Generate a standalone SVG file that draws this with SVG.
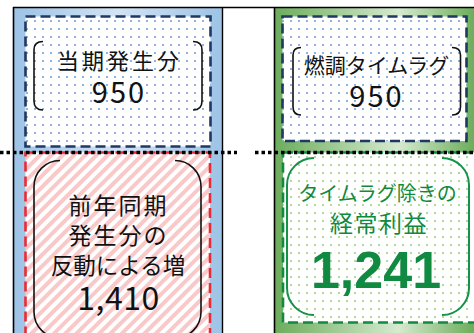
<svg xmlns="http://www.w3.org/2000/svg" width="474" height="333" viewBox="0 0 474 333">
<defs>
<linearGradient id="gBlue" gradientUnits="userSpaceOnUse" x1="14" y1="0" x2="222" y2="0">
<stop offset="0" stop-color="#9DC3E6"/><stop offset="0.5" stop-color="#D2E3F4"/><stop offset="1" stop-color="#9DC3E6"/>
</linearGradient>
<linearGradient id="gGreen" gradientUnits="userSpaceOnUse" x1="275" y1="0" x2="474" y2="0">
<stop offset="0" stop-color="#6CAD5C"/><stop offset="0.62" stop-color="#D6EAD0"/><stop offset="1" stop-color="#6CAD5C"/>
</linearGradient>
<pattern id="dotsBlue" patternUnits="userSpaceOnUse" x="0" y="0" width="8" height="8">
<rect width="8" height="8" fill="#fff"/><rect x="2" y="4" width="2" height="2" fill="#8EB4E3"/>
</pattern>
<pattern id="dotsGreen" patternUnits="userSpaceOnUse" x="0" y="0" width="8" height="8">
<rect width="8" height="8" fill="#fff"/><rect x="2" y="4" width="2" height="2" fill="#B4DA98"/>
</pattern>
<pattern id="hatch" patternUnits="userSpaceOnUse" width="8" height="8" patternTransform="rotate(45)">
<rect width="8" height="8" fill="#fff"/><rect width="4" height="8" fill="#F9C9C9"/>
</pattern>
<style>
.t{font-family:"Noto Sans CJK JP","Noto Sans",sans-serif;text-anchor:middle;fill:#111}
.g{fill:#108A40}
.br{fill:none;stroke:#111;stroke-width:1.6}
.brg{fill:none;stroke:#16914A;stroke-width:2}
.dash{stroke-width:2.6;stroke-dasharray:10 5}
</style>
</defs>
<rect width="474" height="333" fill="#fff"/>
<g id="col-left">
<rect x="14" y="8" width="208" height="330" fill="url(#gBlue)"/>
</g>
<g id="col-right">
<rect x="275" y="8" width="210" height="330" fill="url(#gGreen)"/>
</g>
<g id="node-toujiki">
<rect class="dash" x="25.5" y="16.5" width="185" height="130" fill="url(#dotsBlue)" stroke="#1F3864"/>
<path class="br" d="M43,41.5 Q34,41.5 34,50 L34,101 Q34,110 43,110"/>
<path class="br" d="M193,41.5 Q202,41.5 202,50 L202,101 Q202,110 193,110"/>
<text class="t" x="119.5" y="69" font-size="22" letter-spacing="3">当期発生分</text>
<text class="t" x="119" y="103" font-size="29" letter-spacing="2">950</text>
</g>
<g id="node-hando">
<rect class="dash" x="25.5" y="152.5" width="184.5" height="200" fill="url(#hatch)" stroke="#EA2A35"/>
<path class="br" d="M60,160.5 A26,26 0 0 0 34,186.5 L34,312 A26,26 0 0 0 60,338"/>
<path class="br" d="M175,160.5 A26,26 0 0 1 201,186.5 L201,312 A26,26 0 0 1 175,338"/>
<text class="t" x="118.5" y="214" font-size="23" letter-spacing="2">前年同期</text>
<text class="t" x="118.5" y="244" font-size="23" letter-spacing="2">発生分の</text>
<text class="t" x="118" y="274" font-size="22.5">反動による増</text>
<text class="t" x="118.5" y="310" font-size="32" letter-spacing="0.5">1,410</text>
</g>
<g id="node-timelag">
<rect class="dash" x="282.5" y="16.5" width="184" height="124.5" fill="url(#dotsBlue)" stroke="#1F3864"/>
<path class="br" d="M301,47.5 Q293,47.5 293,55 L293,107 Q293,115 301,115"/>
<path class="br" d="M452,47.5 Q460.5,47.5 460.5,55 L460.5,107 Q460.5,115 452,115"/>
<text class="t" x="376.5" y="73" font-size="21">燃調タイムラグ</text>
<text class="t" x="376.5" y="107" font-size="29" letter-spacing="2">950</text>
</g>
<g id="node-keijo">
<rect class="dash" x="283" y="152.5" width="200" height="170" fill="url(#dotsGreen)" stroke="#0F8A40"/>
<path class="brg" d="M314,158 A27,27 0 0 0 287,185 L287,288 A27,27 0 0 0 314,315"/>
<path class="brg" d="M442,158 A27,27 0 0 1 469,185 L469,288 A27,27 0 0 1 442,315"/>
<text class="t g" x="377.5" y="201" font-size="20">タイムラグ除きの</text>
<text class="t g" x="379" y="232" font-size="23" letter-spacing="1.5">経常利益</text>
<text class="g" x="376" y="288" font-size="52" font-weight="bold" font-family="'Liberation Sans',Arial,sans-serif" text-anchor="middle">1,241</text>
</g>
<g id="connectors" fill="none" stroke="#000">
<path d="M13,7.5 H474" stroke-width="1.5"/>
<path d="M13.5,7 V333" stroke-width="1.6"/>
<path d="M222.5,7 V333" stroke-width="1.4"/>
<path d="M274.5,7 V333" stroke-width="1.6"/>
<path d="M0,152.5 H237" stroke-width="3.5" stroke-dasharray="3.5 3"/>
<path d="M255,152.5 H474" stroke-width="3.5" stroke-dasharray="3.5 3"/>
</g>
</svg>
